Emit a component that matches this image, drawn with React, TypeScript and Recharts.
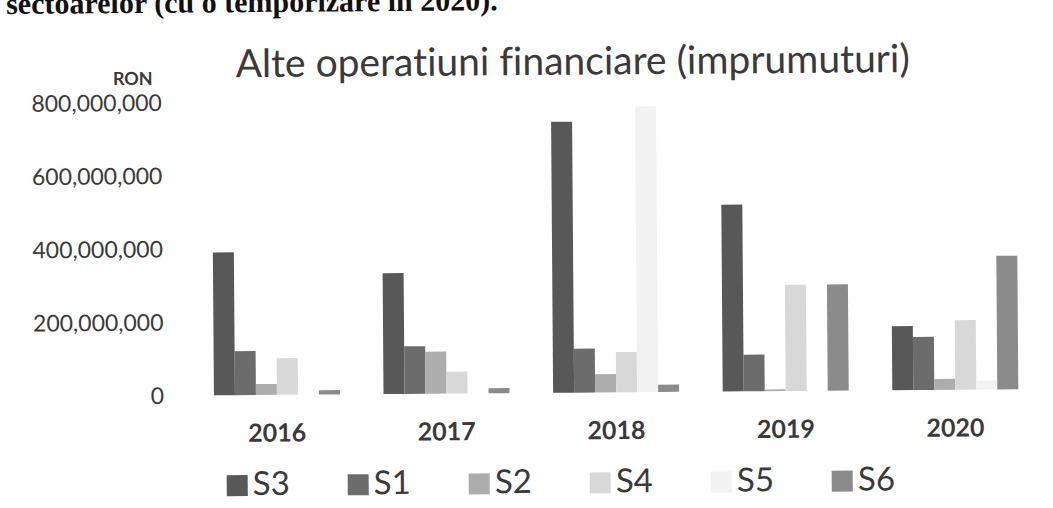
import React from 'react';
import { BarChart, Bar, XAxis, YAxis, Legend } from 'recharts';

const years = ['2016', '2017', '2018', '2019', '2020'];
const seriesKeys = ['S3', 'S1', 'S2', 'S4', 'S5', 'S6'];
const s3 = [390000000, 330000000, 740000000, 510000000, 175000000];
const s1 = [120000000, 130000000, 120000000, 100000000, 145000000];
const s2 = [30000000, 115000000, 50000000, 5000000, 30000000];
const s4 = [100000000, 60000000, 110000000, 290000000, 190000000];
const s5 = [0, 0, 780000000, 0, 25000000];
const s6 = [12000000, 14000000, 20000000, 290000000, 365000000];
const yTicks = [0, 200000000, 400000000, 600000000, 800000000];

const colors: Record<string, string> = {
  S3: '#585858',
  S1: '#6c6c6c',
  S2: '#adadad',
  S4: '#d8d8d8',
  S5: '#f2f2f2',
  S6: '#8b8b8b',
};

const data = years.map((y, i) => ({
  year: y,
  S3: s3[i],
  S1: s1[i],
  S2: s2[i],
  S4: s4[i],
  S5: s5[i],
  S6: s6[i],
}));

const FONT = 'Lato, "Open Sans", sans-serif';
const TEXT = '#3a3a3a';

const renderLegend = () => (
  <div style={{ display: 'flex', alignItems: 'center', paddingLeft: 225, gap: 58, fontFamily: FONT }}>
    {seriesKeys.map((k) => (
      <div key={k} style={{ display: 'flex', alignItems: 'center' }}>
        <div style={{ width: 21, height: 21, background: colors[k], marginRight: 5, marginTop: 6 }} />
        <span style={{ fontSize: 33, lineHeight: 1, color: TEXT }}>{k}</span>
      </div>
    ))}
  </div>
);

export default function App() {
  return (
    <div
      style={{
        position: 'absolute',
        left: 0,
        top: 0,
        width: 1053,
        height: 508,
        background: '#ffffff',
        transform: 'rotate(-0.43deg)',
        transformOrigin: '526px 254px',
        fontVariantLigatures: 'none',
      }}
    >
      <div
        style={{
          position: 'absolute',
          left: 8,
          top: -15,
          fontFamily: '"Liberation Serif", "Times New Roman", serif',
          fontWeight: 700,
          fontSize: 30,
          lineHeight: '30px',
          color: '#111',
          whiteSpace: 'nowrap',
        }}
      >
        sectoarelor (cu o temporizare in 2020).
      </div>
      <div
        style={{
          position: 'absolute',
          left: 237,
          top: 41,
          fontFamily: FONT,
          fontSize: 39,
          lineHeight: 1,
          color: TEXT,
          whiteSpace: 'nowrap',
        }}
      >
        Alte operatiuni financiare (imprumuturi)
      </div>
      <div
        style={{
          position: 'absolute',
          left: 90,
          width: 64,
          top: 66,
          textAlign: 'right',
          fontFamily: FONT,
          fontWeight: 700,
          fontSize: 18,
          lineHeight: 1,
          color: TEXT,
        }}
      >
        RON
      </div>
      <BarChart
        width={1053}
        height={508}
        data={data}
        margin={{ top: 100, right: 14, left: 0, bottom: 0 }}
        barCategoryGap="12.9%"
        barGap={0}
      >
        <XAxis
          dataKey="year"
          height={115}
          axisLine={false}
          tickLine={false}
          tickSize={0}
          tickMargin={29}
          tick={{ fontFamily: FONT, fontSize: 25, fontWeight: 700, fill: TEXT }}
        />
        <YAxis
          width={191}
          domain={[0, 800000000]}
          ticks={yTicks}
          axisLine={false}
          tickLine={false}
          tickSize={0}
          tickMargin={28}
          tickFormatter={(v: number) => v.toLocaleString('en-US')}
          tick={{ fontFamily: FONT, fontSize: 23, fill: TEXT }}
        />
        <Legend
          layout="horizontal"
          verticalAlign="middle"
          align="center"
          wrapperStyle={{ left: 0, top: 464, width: 1053 }}
          content={renderLegend}
        />
        {seriesKeys.map((k) => (
          <Bar key={k} dataKey={k} fill={colors[k]} isAnimationActive={false} />
        ))}
      </BarChart>
    </div>
  );
}
